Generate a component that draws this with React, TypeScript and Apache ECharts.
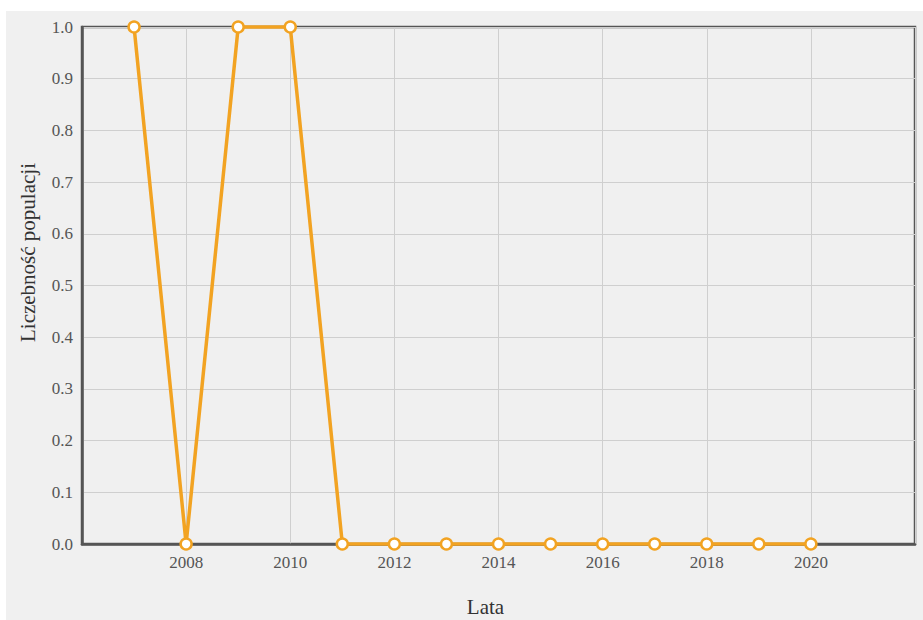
import React, { useEffect, useRef } from "react";
import * as echarts from "echarts";

const years = [2007, 2008, 2009, 2010, 2011, 2012, 2013, 2014, 2015, 2016, 2017, 2018, 2019, 2020];
const values = [1, 0, 1, 1, 0, 0, 0, 0, 0, 0, 0, 0, 0, 0];
const xName = "Lata";
const yName = "Liczebność populacji";

export default function App() {
  const ref = useRef<HTMLDivElement>(null);
  useEffect(() => {
    document.body.style.margin = "0";
    const chart = echarts.init(ref.current!, undefined, { renderer: "svg" });
    const font = "Liberation Serif";
    chart.setOption({
      animation: false,
      backgroundColor: "#f0f0f0",
      textStyle: { fontFamily: font },
      grid: {
        left: 76,
        top: 16,
        right: 8,
        bottom: 76,
        show: true,
        borderColor: "#555",
        borderWidth: 2.5,
        containLabel: false,
        outerBoundsMode: "none",
      },
      xAxis: {
        type: "value",
        min: 2006,
        max: 2022,
        interval: 2,
        name: xName,
        nameLocation: "middle",
        nameGap: 52,
        nameTextStyle: { fontSize: 21, color: "#333", fontFamily: font, padding: [0, 26, 0, 0] },
        axisLine: { show: true, lineStyle: { color: "#555", width: 2.5 } },
        axisTick: { show: false },
        axisLabel: {
          color: "#555",
          fontSize: 17,
          fontFamily: font,
          margin: 10,
          formatter: (v: number) => (v === 2006 || v === 2022 ? "" : String(v)),
        },
        splitLine: { show: true, lineStyle: { color: "#cfcfcf", width: 1 } },
      },
      yAxis: {
        type: "value",
        min: 0,
        max: 1,
        interval: 0.1,
        name: yName,
        nameLocation: "middle",
        nameGap: 44,
        nameTextStyle: { fontSize: 21, color: "#333", fontFamily: font, padding: [0, 0, 0, 66] },
        axisLine: { show: true, lineStyle: { color: "#555", width: 2.5 } },
        axisTick: { show: false },
        axisLabel: {
          color: "#555",
          fontSize: 17,
          fontFamily: font,
          margin: 9,
          formatter: (v: number) => v.toFixed(1),
        },
        splitLine: { show: true, lineStyle: { color: "#cfcfcf", width: 1 } },
      },
      series: [
        {
          type: "line",
          data: years.map((y, i) => [y, values[i]]),
          lineStyle: { color: "#f2a322", width: 3.5 },
          itemStyle: { color: "#fff", borderColor: "#f2a322", borderWidth: 2.5 },
          symbol: "circle",
          symbolSize: 11,
          showSymbol: true,
          clip: false,
          z: 5,
        },
      ],
    });
    return () => chart.dispose();
  }, []);
  return (
    <div style={{ position: "absolute", left: 0, top: 0, width: 923, height: 620, background: "#fff" }}>
      <div ref={ref} style={{ position: "absolute", left: 6, top: 11, width: 917, height: 609 }} />
    </div>
  );
}
